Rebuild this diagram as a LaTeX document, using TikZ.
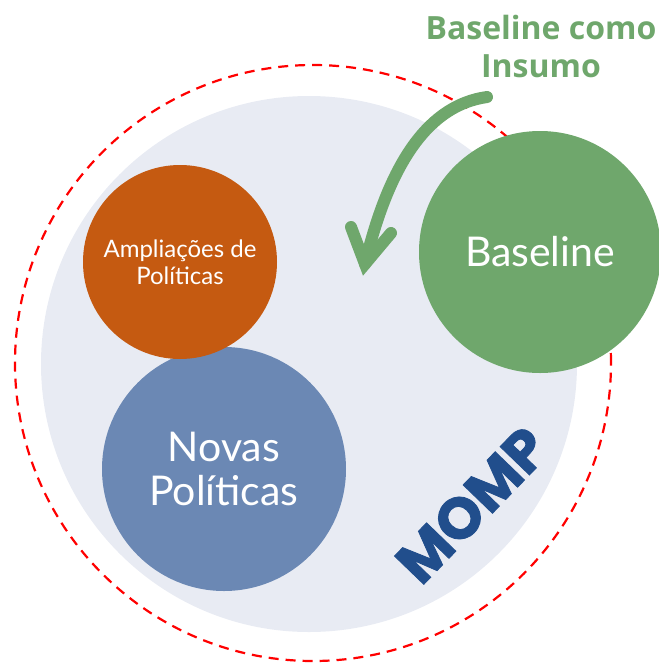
\documentclass[tikz,border=0pt]{standalone}
\usepackage{fontspec}
\setmainfont{Lato}
\newfontfamily\headfont{Open Sans}
\newfontfamily\logofont[FakeBold=1.5]{Poppins}
\usepackage{tikz}
\usetikzlibrary{positioning}
\usetikzlibrary{calc}
\usetikzlibrary{backgrounds}
\definecolor{basegreen}{RGB}{111,167,108}
\definecolor{ampliorange}{RGB}{197,90,17}
\definecolor{novasblue}{RGB}{107,136,180}
\definecolor{mompblue}{RGB}{33,78,140}
\definecolor{mompgray}{RGB}{232,235,243}
\tikzset{bubble/.style={circle,inner sep=0pt,text=white,align=center},
  ring/.style={circle,inner sep=0pt,minimum size=596pt,draw=red,dash pattern=on 10pt off 7pt,line width=2.2pt},
  bigarrow/.style={draw=basegreen,line width=12pt,line cap=round}}

\begin{document}
\begin{tikzpicture}[x=1pt,y=-1pt]
\useasboundingbox (0,0) rectangle (659,665);

\node (ring) at (313,363) [ring] {};
\node (momp) at (309,364) [circle,inner sep=0pt,minimum size=536pt,fill=mompgray] {};

\node (novas) at (224,469) [bubble,minimum size=244pt,fill=novasblue,font=\fontsize{41}{44}\selectfont] {Novas\\Políticas};
\node (amplia) at (180,262) [bubble,minimum size=194pt,fill=ampliorange,font=\fontsize{24}{27}\selectfont] {Ampliações de\\Políticas};
\node (baseline) at (540,252) [bubble,minimum size=242pt,fill=basegreen,font=\fontsize{41}{44}\selectfont] {Baseline};

\node (mompname) at (472,505) [rotate=46,text=mompblue,font=\logofont\bfseries\fontsize{58}{58}\selectfont] {MOMP};

\node (insumo) at (541,46) [text=basegreen,align=center,font=\headfont\bfseries\fontsize{32}{38}\selectfont] {Baseline como\\Insumo};

% seta curva
\coordinate (arrstart) at (487,97);
\coordinate (arrtip) at (365,264);
\coordinate (barbl) at (351,227);
\coordinate (barbr) at (391,233);
\draw[bigarrow] (arrstart) .. controls (430,105) and (390,160) .. (arrtip);
\draw[bigarrow,line join=miter] (barbl) -- (arrtip) -- (barbr);

\end{tikzpicture}
\end{document}
